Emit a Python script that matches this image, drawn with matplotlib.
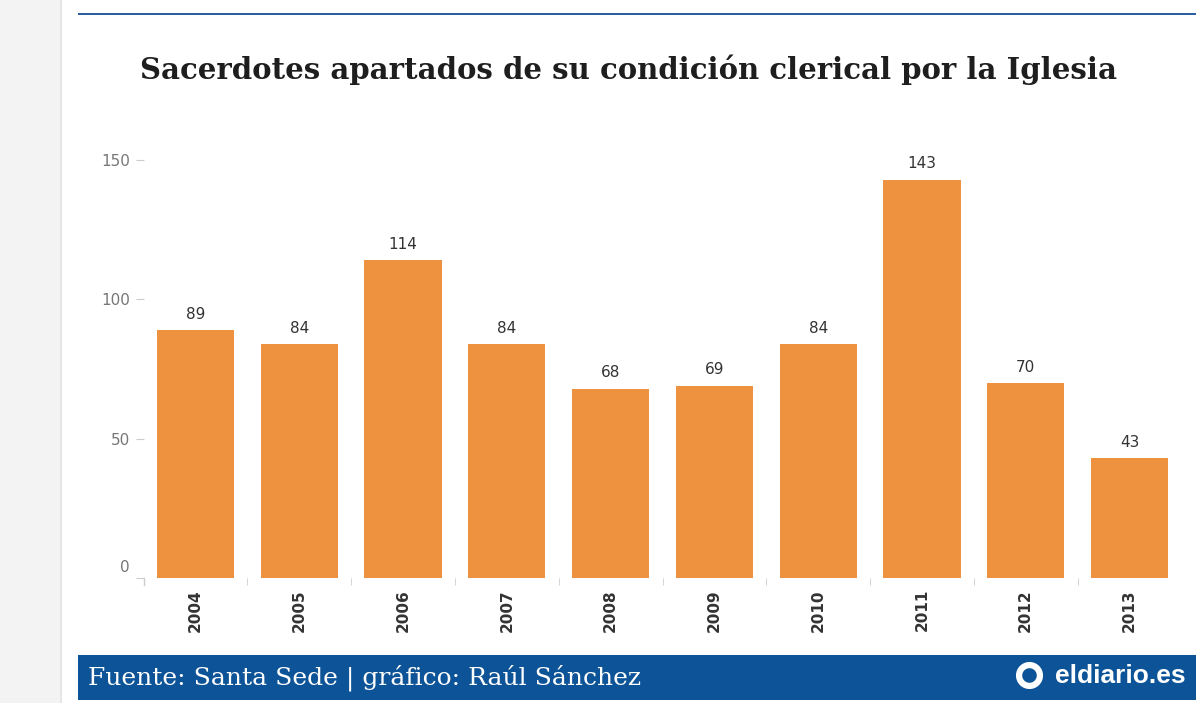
import matplotlib.pyplot as plt
import matplotlib.transforms as mtransforms
from matplotlib.patches import Rectangle
from matplotlib.lines import Line2D

years = ["2004", "2005", "2006", "2007", "2008", "2009", "2010", "2011", "2012", "2013"]
priests = [89, 84, 114, 84, 68, 69, 84, 143, 70, 43]
yticks = [0, 50, 100, 150]

W, H = 1196, 703
fig = plt.figure(figsize=(W / 100, H / 100), dpi=100)
fig.patch.set_facecolor("white")

# left grey strip and top rule
fig.add_artist(Rectangle((0, 0), 60 / W, 1, transform=fig.transFigure, color="#f3f3f3", lw=0))
fig.add_artist(Rectangle((60 / W, 0), 2 / W, 1, transform=fig.transFigure, color="#e6e6e6", lw=0))
fig.add_artist(Rectangle((78 / W, 1 - 15 / H), (W - 78) / W, 2 / H, transform=fig.transFigure,
                         color="#2b5f9e", lw=0))

# footer band
fig.add_artist(Rectangle((78 / W, 3 / H), (W - 78) / W, 45 / H, transform=fig.transFigure,
                         color="#0d5397", lw=0))
fig.text(88 / W, 25 / H, "Fuente: Santa Sede | gráfico: Raúl Sánchez", color="white",
         fontsize=18, family="DejaVu Serif", va="center", ha="left")
fig.text(1186 / W, 27 / H, "eldiario.es", color="white", fontsize=19, fontweight="bold",
         family="Liberation Sans", va="center", ha="right")
fig.add_artist(Line2D([1029 / W], [28 / H], transform=fig.transFigure, marker="o",
                      markersize=15, mfc="none", mec="white", mew=4.5))

fig.text(628 / W, 1 - 70 / H, "Sacerdotes apartados de su condición clerical por la Iglesia",
         fontsize=21, fontweight="bold", family="DejaVu Serif", color="#1e1e1e",
         ha="center", va="center")

ax = fig.add_axes([143.6 / W, (H - 578) / H, 1037.8 / W, 418 / H])
x = range(len(years))
bars = ax.bar(x, priests, width=0.745, color="#ef923f")
for b, v in zip(bars, priests):
    ax.text(b.get_x() + b.get_width() / 2, v + 3, str(v), ha="center", va="bottom",
            fontsize=11, color="#333333", clip_on=False)

ax.set_xlim(-0.5, len(years) - 0.5)
ax.set_ylim(0, 150)
ax.set_yticks(yticks)
ax.set_yticklabels([str(t) for t in yticks], color="#777777", fontsize=11)
ax.set_xticks(list(x))
ax.set_xticklabels(years, rotation=90, fontweight="bold", fontsize=11, color="#333333")
ax.tick_params(axis="y", length=6, color="#cccccc", pad=4)
ax.tick_params(axis="x", length=0, pad=8)
# zero label sits slightly above the baseline
lbl0 = ax.get_yticklabels()[0]
lbl0.set_transform(lbl0.get_transform() + mtransforms.ScaledTranslation(0, 12 / 100, fig.dpi_scale_trans))
# minor ticks between bars
ax.set_xticks([i + 0.5 for i in range(len(years) - 1)], minor=True)
ax.tick_params(axis="x", which="minor", length=5, color="#cccccc", direction="out")
for s in ["top", "right", "left", "bottom"]:
    ax.spines[s].set_visible(False)
ax.plot([-0.5, -0.5], [0, -2.5], color="#cccccc", lw=1, clip_on=False)

fig.savefig("out.png", dpi=100)
